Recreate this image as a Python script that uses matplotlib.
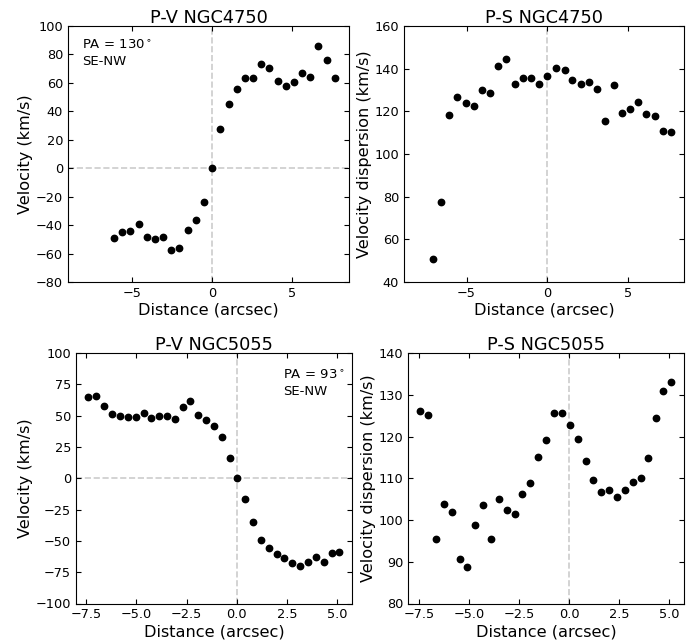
import matplotlib
matplotlib.use("Agg")
import matplotlib.pyplot as plt

# NGC4750 velocity
x1 = [-6.12, -5.60, -5.10, -4.56, -4.07, -3.57, -3.03, -2.53, -2.03, -1.51, -1.02, -0.52, 0.00,
      0.52, 1.04, 1.58, 2.07, 2.57, 3.09, 3.59, 4.09, 4.61, 5.10, 5.62, 6.14, 6.64, 7.16, 7.68]
v1 = [-49.3, -44.6, -44.1, -39.0, -48.3, -50.0, -48.3, -57.3, -56.3, -43.2, -36.6, -23.7, 0.0,
      27.7, 45.5, 55.6, 63.1, 63.1, 73.0, 70.2, 61.3, 58.0, 60.8, 66.9, 64.1, 85.7, 76.3, 63.6]

# NGC4750 dispersion
x2 = [-7.08, -6.60, -6.07, -5.57, -5.05, -4.53, -4.04, -3.52, -3.02, -2.53, -2.01, -1.51, -1.01,
      -0.48, 0.02, 0.56, 1.10, 1.57, 2.09, 2.59, 3.11, 3.62, 4.14, 4.64, 5.13, 5.65, 6.15, 6.67,
      7.18, 7.68]
s2 = [50.9, 77.7, 118.5, 126.7, 123.7, 122.6, 129.8, 128.5, 141.3, 144.4, 132.9, 135.5, 135.8,
      132.9, 136.7, 140.5, 139.2, 134.8, 132.9, 133.9, 130.7, 115.5, 132.2, 119.1, 121.0, 124.5,
      118.8, 117.9, 110.8, 110.2]

# NGC5055 velocity
x3 = [-7.40, -7.00, -6.62, -6.22, -5.84, -5.44, -5.04, -4.64, -4.26, -3.88, -3.48, -3.10, -2.70,
      -2.32, -1.92, -1.54, -1.14, -0.75, -0.36, 0.00, 0.41, 0.80, 1.19, 1.59, 1.99, 2.37, 2.77,
      3.15, 3.55, 3.93, 4.33, 4.73, 5.11]
v3 = [65.2, 66.0, 58.0, 51.3, 50.0, 48.7, 48.7, 52.4, 48.1, 49.5, 50.0, 47.6, 56.6, 61.7, 50.5,
      46.8, 41.8, 33.2, 16.2, 0.0, -16.8, -35.1, -49.5, -55.3, -60.4, -63.3, -67.8, -70.2, -66.8,
      -62.8, -66.5, -59.8, -59.0]

# NGC5055 dispersion
x4 = [-7.43, -7.03, -6.64, -6.25, -5.86, -5.47, -5.08, -4.68, -4.30, -3.90, -3.52, -3.12, -2.72,
      -2.34, -1.94, -1.56, -1.16, -0.78, -0.38, 0.03, 0.43, 0.83, 1.21, 1.61, 1.99, 2.39, 2.77,
      3.17, 3.57, 3.92, 4.32, 4.70, 5.10]
s4 = [126.1, 125.2, 95.5, 103.8, 101.9, 90.6, 88.7, 98.8, 103.6, 95.5, 105.0, 102.5, 101.5,
      106.3, 108.8, 115.2, 119.2, 125.6, 125.6, 122.8, 119.4, 114.1, 109.6, 106.6, 107.1, 105.5,
      107.1, 109.1, 110.0, 114.9, 124.5, 130.8, 133.0]

titles = ["P-V NGC4750", "P-S NGC4750", "P-V NGC5055", "P-S NGC5055"]
xlabel = "Distance (arcsec)"
ylab_v = "Velocity (km/s)"
ylab_s = "Velocity dispersion (km/s)"

W, H = 698, 644
fig = plt.figure(figsize=(W / 100, H / 100), dpi=100)


def box(l, r, t, b):
    return [l / W, 1 - b / H, (r - l) / W, (b - t) / H]


axes = [
    fig.add_axes(box(68, 349, 26, 282)),
    fig.add_axes(box(404, 684, 26, 282)),
    fig.add_axes(box(76, 352, 353, 603.5)),
    fig.add_axes(box(408, 684, 353, 603.5)),
]

data = [(x1, v1), (x2, s2), (x3, v3), (x4, s4)]
xlims = [(-8.98, 8.55), (-8.88, 8.49), (-8.01, 5.74), (-8.04, 5.73)]
ylims = [(-80, 100), (40, 160), (-100, 100), (80, 140)]
yticks = [range(-80, 101, 20), range(40, 161, 20), range(-100, 101, 25), range(80, 141, 10)]
xticks = [[-5, 0, 5], [-5, 0, 5], [-7.5, -5, -2.5, 0, 2.5, 5], [-7.5, -5, -2.5, 0, 2.5, 5]]
ylabels = [ylab_v, ylab_s, ylab_v, ylab_s]

for i, ax in enumerate(axes):
    x, y = data[i]
    ax.axvline(0, color="#cccccc", ls="--", lw=1.2, zorder=1)
    if i in (0, 2):
        ax.axhline(0, color="#cccccc", ls="--", lw=1.2, zorder=1)
    ax.plot(x, y, "o", color="black", ms=4.6, zorder=3)
    ax.set_xlim(*xlims[i])
    ax.set_ylim(*ylims[i])
    ax.set_yticks(list(yticks[i]))
    ax.set_xticks(xticks[i])
    if i >= 2:
        ax.set_xticklabels([f"{t:.1f}".replace("-", "\u2212") for t in xticks[i]])
    ax.tick_params(direction="in", top=True, right=True, labelsize=9.3, length=3.5)
    ax.set_title(titles[i], fontsize=12.8, pad=2)
    ax.set_xlabel(xlabel, fontsize=11.6, labelpad=2)
    ax.set_ylabel(ylabels[i], fontsize=11.6, labelpad=2)

axes[0].text(0.05, 0.95, "PA = 130$^\\circ$\nSE-NW", transform=axes[0].transAxes,
             ha="left", va="top", fontsize=9.5, linespacing=1.3)
axes[2].text(0.75, 0.935, "PA = 93$^\\circ$\nSE-NW", transform=axes[2].transAxes,
             ha="left", va="top", fontsize=9.5, linespacing=1.3)

fig.savefig("out.png", dpi=100)
